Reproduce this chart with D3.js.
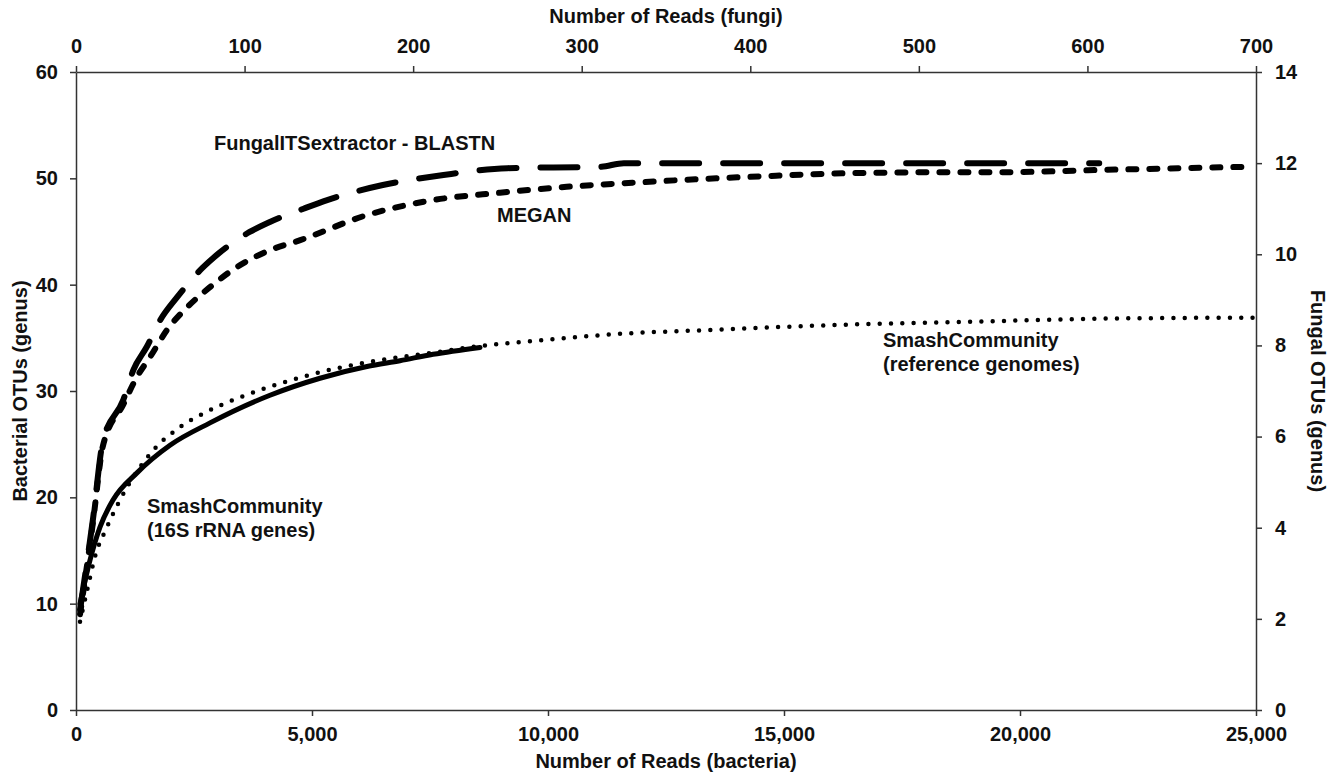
<!DOCTYPE html>
<html>
<head>
<meta charset="utf-8">
<script src="https://cdn.jsdelivr.net/npm/d3@7"></script>
<style>
	body { margin: 0; background: #fff; }
	svg text { font-family: "Liberation Sans", Arial, sans-serif; font-weight: bold; fill: #111; }
	.axis path, .axis line { stroke: #333; stroke-width: 1.5; }
	.curve { fill: none; stroke: #000; stroke-linecap: round; stroke-linejoin: round; }
</style>
</head>
<body>
<svg id="chart" width="1336" height="775"></svg>
<script>
// bacteria: reads (bottom axis) vs OTUs (left axis)
var bactReads16S = [85, 297, 508, 784, 1292, 1991, 2839, 4110, 5169, 6165, 6864, 7564, 8559];
var bactOtus16S  = [10.0, 14.1, 17.2, 19.75, 22.3, 24.9, 27.0, 29.6, 31.2, 32.3, 32.85, 33.45, 34.1];

var bactReadsRef = [85, 254, 402, 656, 932, 1631, 2203, 2839, 3411, 4110, 5021, 6165, 7564, 8496, 9682, 11800, 13220, 16040, 18880, 21690, 24940];
var bactOtusRef  = [8.3, 11.6, 14.4, 17.2, 19.75, 24.4, 26.6, 28.2, 29.3, 30.4, 31.6, 32.7, 33.6, 34.2, 34.7, 35.45, 35.7, 36.2, 36.5, 36.8, 36.9];

// fungi: reads (top axis) vs OTUs (right axis)
var fungReadsBlast = [2.4, 10, 16, 28, 34, 42, 50, 60, 75, 85, 103, 115, 135, 149, 182, 218, 256, 311, 325, 607];
var fungOtusBlast  = [2.2, 4.17, 5.9, 6.8, 7.46, 7.97, 8.56, 9.06, 9.7, 10.03, 10.49, 10.71, 11.0, 11.19, 11.52, 11.74, 11.89, 11.92, 12.0, 12.0];

var fungReadsMegan = [2.4, 10, 16, 28, 36, 44, 54, 66, 79.5, 95.5, 115, 133, 172.6, 212, 251.5, 291, 330, 370, 400, 459, 518, 548, 607, 695];
var fungOtusMegan  = [2.1, 4.1, 5.8, 6.7, 7.3, 7.75, 8.34, 8.84, 9.28, 9.72, 10.09, 10.31, 10.86, 11.19, 11.35, 11.48, 11.57, 11.65, 11.7, 11.78, 11.8, 11.8, 11.85, 11.92];

var bottomTicks = [0, 5000, 10000, 15000, 20000, 25000];
var topTicks = [0, 100, 200, 300, 400, 500, 600, 700];
var leftTicks = [0, 10, 20, 30, 40, 50, 60];
var rightTicks = [0, 2, 4, 6, 8, 10, 12, 14];

var svg = d3.select("#chart"),
	mLeft = 76, mRight = 1256, mTop = 72, mBottom = 710;

var xBact = d3.scaleLinear().domain([0, 25000]).range([mLeft, mRight]),
	xFung = d3.scaleLinear().domain([0, 700]).range([mLeft, mRight]),
	yBact = d3.scaleLinear().domain([0, 60]).range([mBottom, mTop]),
	yFung = d3.scaleLinear().domain([0, 14]).range([mBottom, mTop]);

//axes
svg.append("g").attr("class", "axis")
	.attr("transform", "translate(0," + mBottom + ")")
	.call(d3.axisBottom(xBact).tickValues(bottomTicks).tickSize(6).tickPadding(11).tickSizeOuter(0).tickFormat(d3.format(",")));
svg.append("g").attr("class", "axis")
	.attr("transform", "translate(0," + mTop + ")")
	.call(d3.axisTop(xFung).tickValues(topTicks).tickSize(6).tickPadding(13).tickSizeOuter(0));
svg.append("g").attr("class", "axis")
	.attr("transform", "translate(" + mLeft + ",0)")
	.call(d3.axisLeft(yBact).tickValues(leftTicks).tickSize(6).tickPadding(12).tickSizeOuter(0));
svg.append("g").attr("class", "axis")
	.attr("transform", "translate(" + mRight + ",0)")
	.call(d3.axisRight(yFung).tickValues(rightTicks).tickSize(6).tickPadding(13).tickSizeOuter(0));
svg.selectAll(".axis text").style("font-size", "20px");

//axis titles
svg.append("text").attr("x", (mLeft + mRight) / 2).attr("y", 768)
	.attr("text-anchor", "middle").style("font-size", "20px")
	.text("Number of Reads (bacteria)");
svg.append("text").attr("x", (mLeft + mRight) / 2).attr("y", 23)
	.attr("text-anchor", "middle").style("font-size", "20px")
	.text("Number of Reads (fungi)");
svg.append("text")
	.attr("transform", "translate(27," + (mTop + mBottom) / 2 + ") rotate(-90)")
	.attr("text-anchor", "middle").style("font-size", "20px")
	.text("Bacterial OTUs (genus)");
svg.append("text")
	.attr("transform", "translate(1311," + (mTop + mBottom) / 2 + ") rotate(90)")
	.attr("text-anchor", "middle").style("font-size", "20px")
	.text("Fungal OTUs (genus)");

//curves
function series(xs, ys) {
	return xs.map(function(x, i) { return [x, ys[i]]; });
}
function lineFor(xs, ys) {
	return d3.line().x(function(d) { return xs(d[0]); }).y(function(d) { return ys(d[1]); })
		.curve(d3.curveMonotoneX);
}
var curves = [
	{ data: series(bactReads16S, bactOtus16S), line: lineFor(xBact, yBact), w: 5, dash: null },
	{ data: series(bactReadsRef, bactOtusRef), line: lineFor(xBact, yBact), w: 4.5, dash: "0,11.3" },
	{ data: series(fungReadsMegan, fungOtusMegan), line: lineFor(xFung, yFung), w: 6, dash: "8,13" },
	{ data: series(fungReadsBlast, fungOtusBlast), line: lineFor(xFung, yFung), w: 6, dash: "37,24" }
];
svg.append("g").selectAll("path")
	.data(curves)
	.enter()
	.append("path")
	.attr("class", "curve")
	.attr("d", function(d) { return d.line(d.data); })
	.style("stroke-width", function(d) { return d.w; })
	.style("stroke-dasharray", function(d) { return d.dash; });

//labels
var labels = [
	{ x: 214, y: 150, lines: ["FungalITSextractor - BLASTN"] },
	{ x: 497, y: 222, lines: ["MEGAN"] },
	{ x: 147, y: 513, lines: ["SmashCommunity", "(16S rRNA genes)"] },
	{ x: 883, y: 347, lines: ["SmashCommunity", "(reference genomes)"] }
];
labels.forEach(function(l) {
	var t = svg.append("text").attr("x", l.x).attr("y", l.y).style("font-size", "20px");
	l.lines.forEach(function(s, i) {
		t.append("tspan").attr("x", l.x).attr("dy", i ? 24 : 0).text(s);
	});
});
</script>
</body>
</html>
